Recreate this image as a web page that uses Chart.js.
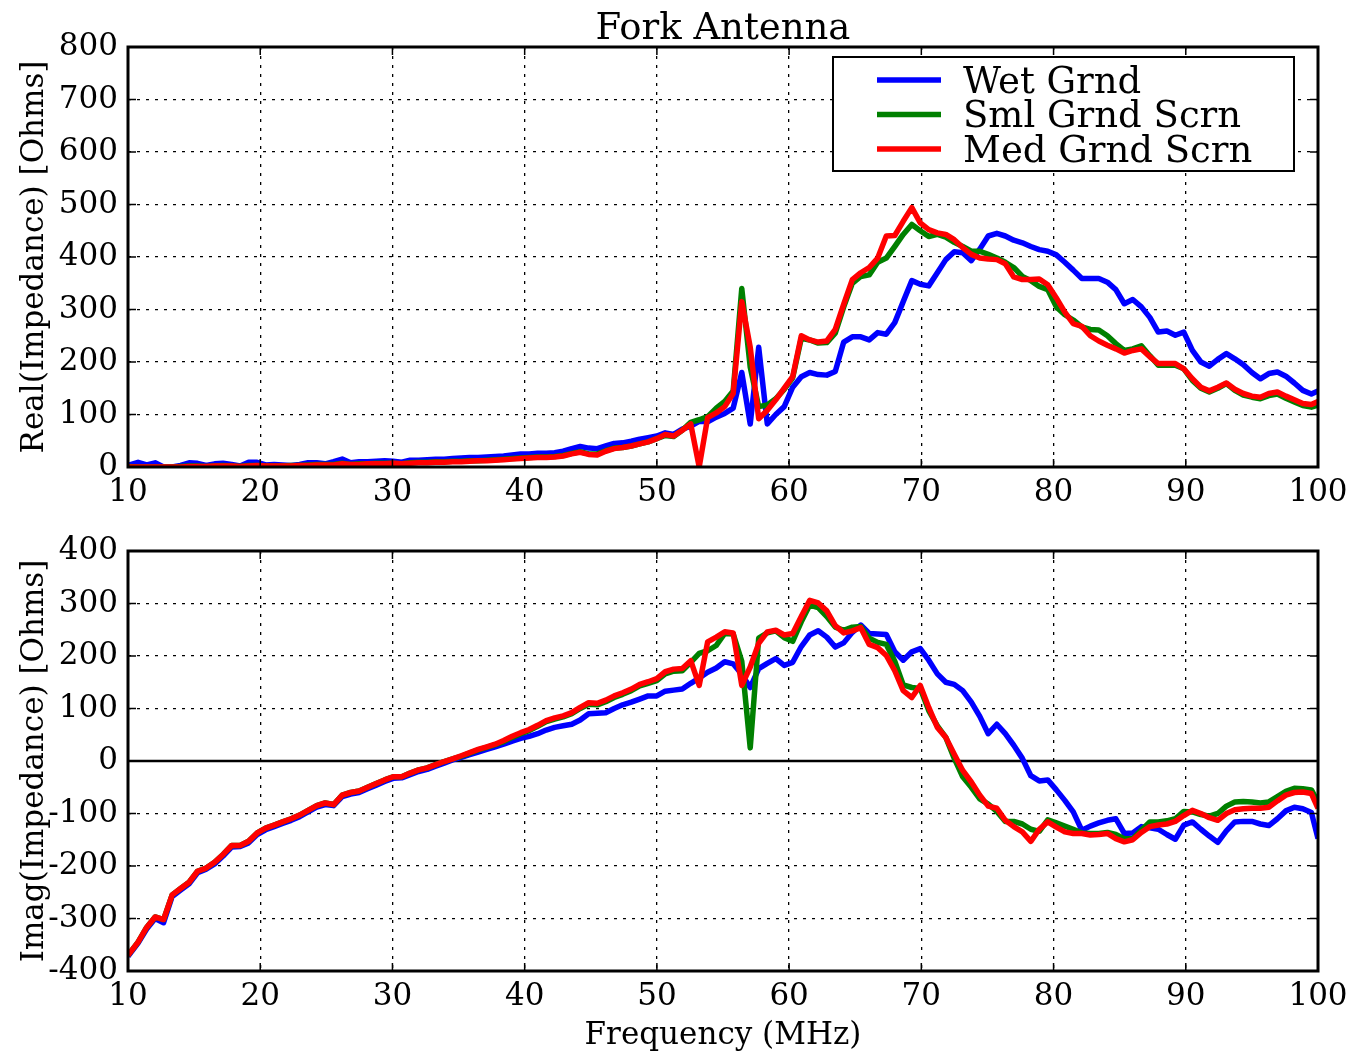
<!DOCTYPE html>
<html>
<head>
<meta charset="utf-8">
<title>Fork Antenna</title>
<script src="https://cdn.jsdelivr.net/npm/chart.js@4.4.1/dist/chart.umd.min.js"></script>
<style>
    html, body { margin: 0; padding: 0; background: #fff; }
    #page { position: relative; width: 1367px; height: 1057px; overflow: hidden; background: #fff; }
    .panel { position: absolute; left: 0; width: 1367px; }
    #top-panel { top: 0; height: 520px; }
    #bottom-panel { top: 504px; height: 553px; }
</style>
</head>
<body>
<div id="page">
    <div class="panel" id="top-panel"><canvas id="realChart" width="1367" height="520"></canvas></div>
    <div class="panel" id="bottom-panel"><canvas id="imagChart" width="1367" height="553"></canvas></div>
</div>
<script>
// Fréquences (MHz)
const freq = [
    10.00, 10.76, 11.41, 12.05, 12.69, 13.34, 13.98, 14.62, 15.26, 15.91,
    16.55, 17.19, 17.84, 18.48, 19.12, 19.77, 20.41, 21.05, 21.69, 22.34,
    22.98, 23.62, 24.27, 24.91, 25.55, 26.20, 26.84, 27.48, 28.12, 28.77,
    29.41, 30.05, 30.70, 31.34, 31.98, 32.63, 33.27, 33.91, 34.55, 35.20,
    35.84, 36.48, 37.13, 37.77, 38.41, 39.06, 39.70, 40.34, 40.98, 41.63,
    42.27, 42.91, 43.56, 44.20, 44.84, 45.49, 46.13, 46.77, 47.41, 48.06,
    48.70, 49.34, 49.99, 50.63, 51.27, 51.92, 52.56, 53.20, 53.84, 54.49,
    55.13, 55.77, 56.42, 57.06, 57.70, 58.35, 58.99, 59.63, 60.27, 60.92,
    61.56, 62.20, 62.85, 63.49, 64.13, 64.78, 65.42, 66.06, 66.70, 67.35,
    67.99, 68.63, 69.28, 69.92, 70.56, 71.21, 71.85, 72.49, 73.13, 73.78,
    74.42, 75.06, 75.71, 76.35, 76.99, 77.64, 78.28, 78.92, 79.56, 80.21,
    80.85, 81.49, 82.14, 82.78, 83.42, 84.07, 84.71, 85.35, 85.99, 86.64,
    87.28, 87.92, 88.57, 89.21, 89.85, 90.50, 91.14, 91.78, 92.42, 93.07,
    93.71, 94.35, 95.00, 95.64, 96.28, 96.93, 97.57, 98.21, 98.85, 99.50,
    100.00
];

const seriesNames = ['Wet Grnd', 'Sml Grnd Scrn', 'Med Grnd Scrn'];
const seriesColors = ['#0000ff', '#008000', '#ff0000'];

// Partie réelle (Ohms)
const realWet = [
    3, 9, 4, 8, 0, 0, 3, 8, 7, 3,
    6, 7, 5, 2, 9, 9, 4, 5, 4, 3,
    5, 8, 8, 6, 10, 15, 8, 10, 10, 11,
    12, 11, 9, 13, 13, 14, 15, 15, 16, 17,
    18, 18, 19, 20, 21, 23, 25, 25, 26, 26,
    27, 30, 35, 39, 36, 35, 40, 45, 46, 49,
    53, 56, 59, 65, 62, 72, 78, 87, 86, 95,
    102, 112, 180, 82, 228, 82, 100, 115, 152, 172,
    180, 176, 175, 182, 238, 248, 248, 242, 256, 253,
    275, 315, 355, 348, 345, 370, 395, 410, 408, 393,
    415, 440, 445, 440, 432, 427, 420, 414, 411, 404,
    390, 375, 359, 359, 359, 352, 338, 311, 319, 305,
    285, 257, 259, 251, 257, 222, 200, 192, 205, 216,
    206, 195, 180, 168, 178, 181, 173, 160, 146, 139,
    145
];
const realSml = [
    1, 0, 0, 0, 0, 0, 1, 2, 2, 1,
    2, 3, 2, 1, 3, 3, 2, 2, 2, 3,
    3, 4, 5, 5, 5, 7, 5, 6, 6, 7,
    7, 7, 6, 8, 9, 9, 10, 10, 11, 11,
    12, 12, 13, 14, 15, 16, 17, 18, 19, 19,
    20, 22, 26, 29, 25, 25, 31, 36, 37, 40,
    44, 48, 54, 60, 58, 70, 85, 90, 96, 112,
    125, 145, 340, 190, 115, 118, 130, 148, 170, 245,
    242, 236, 237, 255, 305, 350, 363, 366, 390, 398,
    420, 443, 462, 450, 439, 443, 438, 428, 420, 411,
    411, 405, 398, 390, 380, 363, 355, 344, 338, 305,
    290, 280, 267, 262, 261, 250, 235, 222, 225, 231,
    212, 194, 194, 194, 187, 165, 150, 143, 150, 159,
    146, 137, 133, 130, 136, 139, 131, 124, 117, 114,
    118
];
const realMed = [
    0, 0, 0, 0, 0, 0, 0, 1, 1, 1,
    2, 2, 2, 1, 2, 3, 2, 2, 2, 2,
    3, 3, 4, 4, 4, 6, 5, 5, 6, 6,
    6, 7, 6, 7, 8, 8, 9, 9, 10, 10,
    11, 12, 12, 13, 14, 15, 16, 17, 18, 18,
    19, 21, 25, 28, 24, 23, 30, 35, 37, 40,
    44, 48, 54, 62, 59, 70, 82, 0, 94, 103,
    115, 140, 315, 228, 92, 108, 128, 150, 172, 250,
    242, 238, 240, 262, 310, 357, 370, 380, 398, 440,
    441, 468, 494, 465, 452, 446, 443, 433, 418, 405,
    398, 396, 395, 387, 362, 357, 357, 358, 347, 322,
    295, 273, 268, 250, 240, 232, 225, 217, 222, 225,
    210, 197, 197, 197, 187, 168, 152, 145, 152, 160,
    148, 140, 135, 133, 140, 143, 135, 128, 121, 119,
    125
];

// Partie imaginaire (Ohms)
const imagWet = [
    -372, -347, -320, -300, -308, -258, -246, -234, -213, -206,
    -196, -181, -164, -163, -156, -140, -131, -125, -119, -113,
    -106, -97, -88, -83, -85, -68, -63, -60, -53, -46,
    -39, -33, -32, -26, -20, -16, -10, -4, 2, 7,
    12, 17, 22, 27, 32, 38, 43, 47, 52, 59,
    64, 67, 70, 78, 90, 91, 92, 100, 107, 112,
    118, 124, 124, 133, 135, 137, 148, 158, 169, 177,
    189, 185, 165, 140, 176, 186, 195, 182, 188, 218,
    240, 248, 236, 217, 225, 245, 259, 243, 242, 241,
    208, 192, 208, 214, 192, 166, 150, 146, 134, 112,
    85, 52, 70, 52, 30, 5, -28, -38, -36, -55,
    -75, -97, -132, -124, -118, -113, -110, -138, -137, -125,
    -127, -130, -140, -149, -122, -116, -130, -143, -155, -133,
    -116, -115, -115, -120, -123, -110, -95, -88, -91, -98,
    -148
];
const imagSml = [
    -370, -345, -317, -297, -302, -255, -243, -231, -210, -204,
    -193, -178, -161, -161, -153, -137, -128, -122, -116, -110,
    -103, -94, -85, -80, -83, -65, -60, -57, -50, -43,
    -36, -30, -30, -23, -17, -13, -7, -1, 4, 9,
    15, 21, 26, 31, 37, 45, 52, 58, 66, 75,
    80, 84, 90, 100, 108, 107, 113, 121, 127, 134,
    143, 148, 153, 166, 171, 172, 188, 205, 210, 220,
    243, 242, 190, 25, 234, 244, 248, 235, 228, 265,
    297, 292, 275, 255, 249, 255, 256, 234, 226, 222,
    190, 145, 140, 138, 96, 67, 45, 5, -30, -50,
    -72, -82, -96, -115, -115, -120, -130, -134, -112, -118,
    -124, -130, -137, -138, -138, -136, -140, -148, -148, -132,
    -116, -116, -114, -110, -96, -97, -102, -105, -100, -86,
    -78, -77, -78, -80, -78, -68, -58, -52, -53, -55,
    -78
];
const imagMed = [
    -370, -345, -317, -297, -302, -255, -243, -231, -210, -204,
    -193, -178, -161, -161, -153, -137, -128, -122, -116, -110,
    -103, -94, -85, -80, -83, -65, -60, -57, -50, -43,
    -36, -30, -30, -23, -17, -13, -7, -1, 4, 10,
    16, 22, 27, 32, 39, 47, 54, 60, 68, 77,
    82, 86, 92, 102, 111, 110, 116, 124, 130, 137,
    146, 151, 157, 170, 175, 176, 191, 144, 227, 236,
    246, 244, 144, 179, 224, 246, 249, 240, 243, 275,
    306, 301, 286, 258, 244, 248, 254, 222, 216, 201,
    172, 134, 121, 144, 102, 64, 45, 13, -18, -40,
    -65, -86, -90, -113, -125, -135, -153, -130, -116, -126,
    -135, -138, -138, -141, -140, -138, -148, -154, -150, -136,
    -125, -122, -120, -115, -104, -94, -100, -108, -113, -100,
    -93, -91, -90, -90, -88, -76, -65, -60, -59, -62,
    -90
];

const FONT = "'DejaVu Serif', 'Liberation Serif', serif";
const LINE_WIDTH = 5.5;

function toPoints(values) {
    return freq.map((f, i) => ({ x: f, y: values[i] }));
}

// Rouge dessiné au-dessus : premier jeu = dessus
function buildDatasets(wet, sml, med) {
    return [
        { label: seriesNames[2], data: toPoints(med), borderColor: seriesColors[2] },
        { label: seriesNames[1], data: toPoints(sml), borderColor: seriesColors[1] },
        { label: seriesNames[0], data: toPoints(wet), borderColor: seriesColors[0] }
    ].map(ds => Object.assign(ds, {
        borderWidth: LINE_WIDTH,
        pointRadius: 0,
        fill: false,
        tension: 0,
        borderJoinStyle: 'round',
        borderCapStyle: 'butt'
    }));
}

// Cadre, graduations intérieures, ligne zéro, titre et légende
const framePlugin = {
    id: 'frame',
    beforeDatasetsDraw(chart, args, opts) {
        if (!opts.zeroLine) return;
        const { ctx, chartArea: a, scales: { y } } = chart;
        const py = y.getPixelForValue(0);
        ctx.save();
        ctx.strokeStyle = '#000';
        ctx.lineWidth = 2.5;
        ctx.beginPath();
        ctx.moveTo(a.left, py);
        ctx.lineTo(a.right, py);
        ctx.stroke();
        ctx.restore();
    },
    afterDraw(chart, args, opts) {
        const { ctx, chartArea: a, scales: { x, y } } = chart;
        ctx.save();
        ctx.strokeStyle = '#000';
        ctx.lineWidth = 1.5;
        ctx.beginPath();
        x.ticks.forEach(t => {
            const px = x.getPixelForValue(t.value);
            ctx.moveTo(px, a.bottom); ctx.lineTo(px, a.bottom - 8);
            ctx.moveTo(px, a.top); ctx.lineTo(px, a.top + 8);
        });
        y.ticks.forEach(t => {
            const py = y.getPixelForValue(t.value);
            ctx.moveTo(a.left, py); ctx.lineTo(a.left + 8, py);
            ctx.moveTo(a.right, py); ctx.lineTo(a.right - 8, py);
        });
        ctx.stroke();
        ctx.lineWidth = 3;
        ctx.strokeRect(a.left, a.top, a.right - a.left, a.bottom - a.top);

        if (opts.title) {
            ctx.fillStyle = '#000';
            ctx.font = '37px ' + FONT;
            ctx.textAlign = 'center';
            ctx.textBaseline = 'alphabetic';
            ctx.fillText(opts.title, (a.left + a.right) / 2, 39);
        }

        if (opts.legend) {
            const box = { x: 833, y: 57, w: 461, h: 114 };
            ctx.fillStyle = '#fff';
            ctx.fillRect(box.x, box.y, box.w, box.h);
            ctx.lineWidth = 2;
            ctx.strokeStyle = '#000';
            ctx.strokeRect(box.x, box.y, box.w, box.h);
            ctx.font = '37px ' + FONT;
            ctx.textAlign = 'left';
            ctx.textBaseline = 'middle';
            seriesNames.forEach((name, i) => {
                const ly = 80 + i * 34.5;
                ctx.strokeStyle = seriesColors[i];
                ctx.lineWidth = LINE_WIDTH;
                ctx.beginPath();
                ctx.moveTo(877, ly);
                ctx.lineTo(941, ly);
                ctx.stroke();
                ctx.fillStyle = '#000';
                ctx.fillText(name, 963, ly + 3);
            });
        }
        ctx.restore();
    }
};

function buildOptions(cfg) {
    return {
        responsive: false,
        animation: false,
        events: [],
        layout: { padding: { top: 47, right: 49, left: 0, bottom: 0 } },
        plugins: {
            legend: { display: false },
            tooltip: { enabled: false },
            frame: { zeroLine: cfg.zeroLine, title: cfg.title, legend: cfg.legend }
        },
        scales: {
            x: {
                type: 'linear',
                min: 10,
                max: 100,
                afterFit: s => { s.height = cfg.xHeight; },
                ticks: {
                    stepSize: 10,
                    autoSkip: false,
                    maxRotation: 0,
                    color: '#000',
                    padding: 7,
                    font: { family: FONT, size: 31 }
                },
                grid: { color: '#000', lineWidth: 1.3, drawTicks: false },
                border: { display: false, dash: [3, 6] },
                title: {
                    display: !!cfg.xTitle,
                    text: cfg.xTitle || '',
                    color: '#000',
                    font: { family: FONT, size: 31 },
                    padding: { top: 0, bottom: 2 }
                }
            },
            y: {
                type: 'linear',
                min: cfg.yMin,
                max: cfg.yMax,
                afterFit: s => { s.width = 128; },
                ticks: {
                    stepSize: 100,
                    autoSkip: false,
                    color: '#000',
                    padding: 10,
                    font: { family: FONT, size: 31 }
                },
                grid: { color: '#000', lineWidth: 1.3, drawTicks: false },
                border: { display: false, dash: [3, 6] },
                title: {
                    display: true,
                    text: cfg.yTitle,
                    color: '#000',
                    font: { family: FONT, size: 31 },
                    padding: { top: 16, bottom: 0 }
                }
            }
        }
    };
}

document.addEventListener('DOMContentLoaded', function() {
    new Chart(document.getElementById('realChart'), {
        type: 'line',
        data: { datasets: buildDatasets(realWet, realSml, realMed) },
        options: buildOptions({
            yMin: 0, yMax: 800, yTitle: 'Real(Impedance) [Ohms]',
            xHeight: 53, title: 'Fork Antenna', legend: true, zeroLine: false
        }),
        plugins: [framePlugin]
    });

    new Chart(document.getElementById('imagChart'), {
        type: 'line',
        data: { datasets: buildDatasets(imagWet, imagSml, imagMed) },
        options: buildOptions({
            yMin: -400, yMax: 400, yTitle: 'Imag(Impedance) [Ohms]',
            xHeight: 86, xTitle: 'Frequency (MHz)', legend: false, zeroLine: true
        }),
        plugins: [framePlugin]
    });
});
</script>
</body>
</html>
